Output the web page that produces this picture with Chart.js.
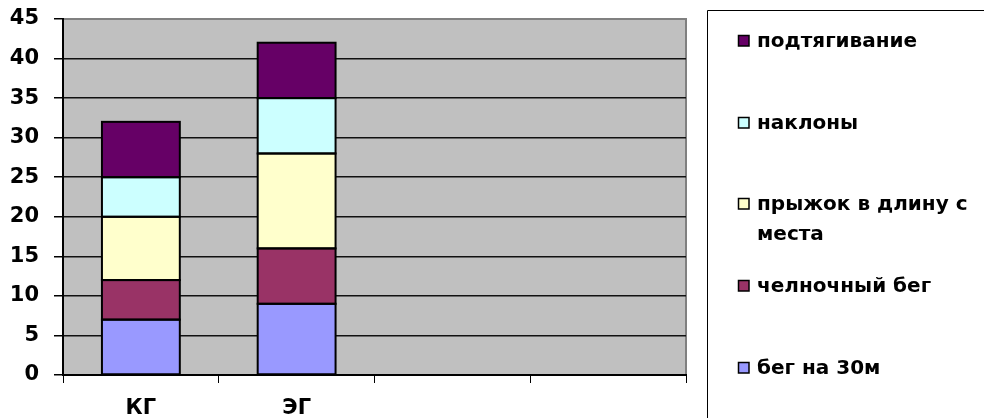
<!DOCTYPE html>
<html>
<head>
<meta charset="utf-8">
<script src="https://cdn.jsdelivr.net/npm/chart.js@4"></script>
<style>
    html, body { margin: 0; padding: 0; background: #fff; }
    #chart { width: 984px; height: 418px; }
</style>
</head>
<body>
<div id="chart"><canvas id="myChart" width="984" height="418"></canvas></div>
<script>
const labels = ['КГ', 'ЭГ', '', ''];

const beg30 = [7, 9, null, null];
const chelnok = [5, 7, null, null];
const pryzhok = [8, 12, null, null];
const naklony = [5, 7, null, null];
const podtyag = [7, 7, null, null];

const yTicks = [0, 5, 10, 15, 20, 25, 30, 35, 40, 45];

const FONT = '"DejaVu Sans", sans-serif';

function dataset(label, data, color) {
    return {
        label: label,
        data: data,
        backgroundColor: color,
        borderWidth: 0,
        categoryPercentage: 1,
        barPercentage: 0.5
    };
}

const datasets = [
    dataset('бег на 30м', beg30, '#9999FF'),
    dataset('челночный бег', chelnok, '#993366'),
    dataset('прыжок в длину с места', pryzhok, '#FFFFCC'),
    dataset('наклоны', naklony, '#CCFFFF'),
    dataset('подтягивание', podtyag, '#660066')
];

// grey plot background + thin border like the old excel chart
const plotArea = {
    id: 'plotArea',
    beforeDraw(chart) {
        const ctx = chart.ctx, a = chart.chartArea;
        ctx.save();
        ctx.fillStyle = '#C0C0C0';
        ctx.fillRect(a.left, a.top, a.right - a.left, a.bottom - a.top);
        ctx.strokeStyle = '#808080';
        ctx.lineWidth = 2;
        ctx.beginPath();
        ctx.moveTo(a.left, a.top);
        ctx.lineTo(a.right, a.top);
        ctx.lineTo(a.right, a.bottom);
        ctx.stroke();
        ctx.restore();
    }
};

// black outline centred on each bar edge, so joins are one line
const barOutline = {
    id: 'barOutline',
    afterDatasetsDraw(chart) {
        const ctx = chart.ctx;
        ctx.save();
        ctx.strokeStyle = '#000';
        ctx.lineWidth = 2;
        chart.data.datasets.forEach((ds, i) => {
            chart.getDatasetMeta(i).data.forEach((bar, j) => {
                if (ds.data[j] == null) return;
                const p = bar.getProps(['x', 'y', 'base', 'width'], true);
                ctx.strokeRect(p.x - p.width / 2, p.y, p.width, p.base - p.y);
            });
        });
        ctx.restore();
    }
};

// legend in a box on the right, top item = last dataset
const boxLegend = {
    id: 'boxLegend',
    afterDraw(chart) {
        const ctx = chart.ctx;
        ctx.save();
        ctx.strokeStyle = '#000';
        ctx.lineWidth = 1;
        ctx.beginPath();
        ctx.moveTo(707.5, 418);
        ctx.lineTo(707.5, 10.5);
        ctx.lineTo(984, 10.5);
        ctx.stroke();

        ctx.font = 'bold 20px ' + FONT;
        ctx.textBaseline = 'middle';
        const items = chart.data.datasets.slice().reverse();
        items.forEach((ds, i) => {
            const y = Math.round(42 + i * 81.7);
            ctx.fillStyle = ds.backgroundColor;
            ctx.fillRect(738, y - 7, 11, 11);
            ctx.strokeStyle = '#000';
            ctx.lineWidth = 1.5;
            ctx.strokeRect(738.5, y - 6.5, 10.5, 10.5);
            ctx.fillStyle = '#000';
            // simple word wrap
            const words = ds.label.split(' ');
            let line = '', ly = y;
            words.forEach(w => {
                const test = line ? line + ' ' + w : w;
                if (line && ctx.measureText(test).width > 226) {
                    ctx.fillText(line, 757, ly);
                    line = w;
                    ly += 30;
                } else {
                    line = test;
                }
            });
            ctx.fillText(line, 757, ly);
        });
        ctx.restore();
    }
};

new Chart(document.getElementById('myChart'), {
    type: 'bar',
    data: { labels: labels, datasets: datasets },
    plugins: [plotArea, barOutline, boxLegend],
    options: {
        responsive: false,
        animation: false,
        layout: { padding: { left: 0, top: 19, right: 298, bottom: 0 } },
        plugins: {
            legend: { display: false },
            tooltip: { enabled: false }
        },
        scales: {
            x: {
                stacked: true,
                offset: true,
                afterFit(scale) { scale.height = 43; },
                grid: {
                    offset: true,
                    drawOnChartArea: false,
                    drawTicks: true,
                    tickLength: 8,
                    color: '#000'
                },
                border: { color: '#000', width: 2 },
                ticks: {
                    color: '#000',
                    padding: 13,
                    maxRotation: 0,
                    font: { family: FONT, size: 21, weight: 'bold' }
                }
            },
            y: {
                stacked: true,
                min: 0,
                max: 45,
                afterFit(scale) {
                    scale.width = 63;
                    scale.paddingTop = 0;
                    scale.paddingBottom = 0;
                },
                afterBuildTicks(scale) {
                    scale.ticks = yTicks.map(v => ({ value: v }));
                },
                grid: {
                    color: ctx => ctx.tick && ctx.tick.value === 45 ? 'rgba(0,0,0,0)' : '#111',
                    lineWidth: 1.5,
                    drawTicks: true,
                    tickLength: 9,
                    tickColor: '#000'
                },
                border: { color: '#000', width: 2 },
                ticks: {
                    color: '#000',
                    padding: 15,
                    font: { family: FONT, size: 21, weight: 'bold' }
                }
            }
        }
    }
});
</script>
</body>
</html>
